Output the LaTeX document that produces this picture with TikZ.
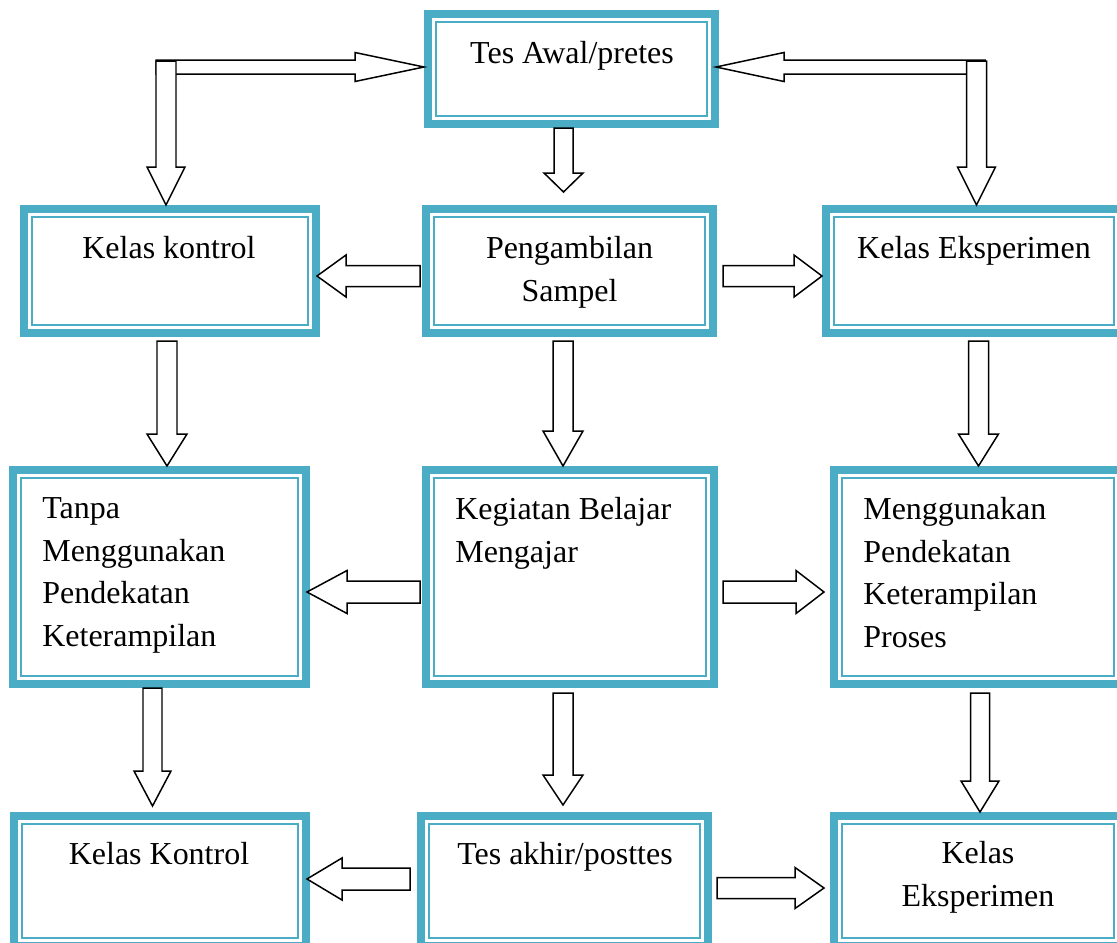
\documentclass[tikz,border=0pt]{standalone}
\usepackage{fontspec}
\setmainfont{Liberation Serif}
\usetikzlibrary{calc}
\definecolor{kotak}{HTML}{4BACC6}
\newcommand{\isifont}{\fontsize{18.2}{24.2}\selectfont}

\begin{document}
\begin{tikzpicture}[
	dbox/.style={draw=kotak, line width=0.16cm, inner sep=0pt, path picture={
			\draw[kotak, line width=0.04cm]
			([shift={(0.16,0.16)}]path picture bounding box.south west) rectangle
			([shift={(-0.16,-0.16)}]path picture bounding box.north east);}},
	teks/.style={inner sep=0pt, font=\isifont},
	blk/.style={draw=black, fill=white, line width=0.85pt},
	darr/.style n args={3}{to path={let \p1=(\tikztostart), \p2=(\tikztotarget) in
			(\x1-#1,\y1) -- (\x1-#1,\y2+#3) -- (\x1-#2,\y2+#3) -- (\x1,\y2)
			-- (\x1+#2,\y2+#3) -- (\x1+#1,\y2+#3) -- (\x1+#1,\y1) -- cycle}},
	rarr/.style n args={3}{to path={let \p1=(\tikztostart), \p2=(\tikztotarget) in
			(\x1,\y1+#1) -- (\x2-#3,\y1+#1) -- (\x2-#3,\y1+#2) -- (\x2,\y1)
			-- (\x2-#3,\y1-#2) -- (\x2-#3,\y1-#1) -- (\x1,\y1-#1) -- cycle}},
	larr/.style n args={3}{to path={let \p1=(\tikztostart), \p2=(\tikztotarget) in
			(\x1,\y1+#1) -- (\x2+#3,\y1+#1) -- (\x2+#3,\y1+#2) -- (\x2,\y1)
			-- (\x2+#3,\y1-#2) -- (\x2+#3,\y1-#1) -- (\x1,\y1-#1) -- cycle}}
	]
			\useasboundingbox (0,0) rectangle (22.34,-18.84);
			% kotak
			\node[dbox, minimum width=5.74cm, minimum height=2.20cm] (pre) at (11.43,-1.38) {};
			\node[dbox, minimum width=5.74cm, minimum height=2.48cm] (sampel) at (11.39,-5.42) {};
			\node[dbox, minimum width=5.84cm, minimum height=2.48cm] (kontrol1) at (3.40,-5.42) {};
			\node[dbox, minimum width=5.92cm, minimum height=2.48cm] (eksp1) at (19.48,-5.42) {};
			\node[dbox, minimum width=5.86cm, minimum height=4.28cm] (tanpa) at (3.19,-11.54) {};
			\node[dbox, minimum width=5.76cm, minimum height=4.28cm] (kbm) at (11.40,-11.54) {};
			\node[dbox, minimum width=5.76cm, minimum height=4.28cm] (proses) at (19.56,-11.54) {};
			\node[dbox, minimum width=5.84cm, minimum height=2.60cm] (kontrol2) at (3.20,-17.62) {};
			\node[dbox, minimum width=5.74cm, minimum height=2.60cm] (post) at (11.29,-17.62) {};
			\node[dbox, minimum width=5.76cm, minimum height=2.60cm] (eksp2) at (19.56,-17.62) {};
			% teks
			\node[teks, anchor=base] (tpre) at (11.44,-1.26) {Tes Awal/pretes};
			\node[teks, anchor=north, align=center] (tsampel) at (11.39,-4.72) {Pengambilan\\Sampel};
			\node[teks, anchor=base] (tkontrol1) at (3.38,-5.16) {Kelas kontrol};
			\node[teks, anchor=base] (teksp1) at (19.48,-5.16) {Kelas Eksperimen};
			\node[teks, anchor=north west, align=left] (ttanpa) at (0.84,-9.95) {Tanpa\\Menggunakan\\Pendekatan\\Keterampilan};
			\node[teks, anchor=north west, align=left] (tkbm) at (9.10,-9.94) {Kegiatan Belajar\\Mengajar};
			\node[teks, anchor=north west, align=left] (tproses) at (17.26,-9.94) {Menggunakan\\Pendekatan\\Keterampilan\\Proses};
			\node[teks, anchor=base] (tkontrol2) at (3.18,-17.28) {Kelas Kontrol};
			\node[teks, anchor=base] (tpost) at (11.30,-17.28) {Tes akhir/posttes};
			\node[teks, anchor=north, align=center] (teksp2) at (19.56,-16.82) {Kelas\\Eksperimen};
			% panah atas
			\coordinate (lh) at (3.12,-1.34);
			\coordinate (lv) at (3.32,-1.22);
			\coordinate (rh) at (19.70,-1.34);
			\coordinate (rv) at (19.53,-1.22);
			\draw[blk] (lh) to[rarr={0.14cm}{0.29cm}{1.38cm}] (pre.west);
			\draw[blk] (lv) to[darr={0.20cm}{0.38cm}{0.76cm}] (kontrol1.north);
			\draw[blk] (rh) to[larr={0.14cm}{0.29cm}{1.36cm}] ([xshift=-0.06cm]pre.east);
			\draw[blk] (rv) to[darr={0.20cm}{0.38cm}{0.76cm}] (eksp1.north);
			\draw[blk] ([xshift=-0.16cm]pre.south) to[darr={0.19cm}{0.39cm}{0.38cm}] ([yshift=0.26cm]sampel.north);
			% baris kedua
			\draw[blk] ([xshift=-0.04cm,yshift=-0.10cm]sampel.west) to[larr={0.21cm}{0.42cm}{0.58cm}] ([xshift=-0.06cm]kontrol1.east);
			\draw[blk] ([xshift=0.12cm,yshift=-0.10cm]sampel.east) to[rarr={0.21cm}{0.42cm}{0.56cm}] (eksp1.west);
			\draw[blk] ([xshift=-0.13cm,yshift=-0.08cm]sampel.south) to[darr={0.20cm}{0.40cm}{0.70cm}] (kbm.north);
			\draw[blk] ([xshift=-0.06cm,yshift=-0.08cm]kontrol1.south) to[darr={0.20cm}{0.40cm}{0.64cm}] (tanpa.north);
			\draw[blk] ([xshift=0.09cm,yshift=-0.08cm]eksp1.south) to[darr={0.20cm}{0.40cm}{0.64cm}] (proses.north);
			% baris ketiga
			\draw[blk] ([xshift=-0.04cm,yshift=-0.30cm]kbm.west) to[larr={0.22cm}{0.43cm}{0.80cm}] ([xshift=-0.06cm]tanpa.east);
			\draw[blk] ([xshift=0.10cm,yshift=-0.30cm]kbm.east) to[rarr={0.22cm}{0.43cm}{0.56cm}] ([xshift=-0.12cm]proses.west);
			\draw[blk] ([xshift=-0.14cm]tanpa.south) to[darr={0.19cm}{0.37cm}{0.70cm}] ([yshift=0.12cm]kontrol2.north);
			\draw[blk] ([xshift=-0.14cm,yshift=-0.10cm]kbm.south) to[darr={0.20cm}{0.40cm}{0.60cm}] ([yshift=0.14cm]post.north);
			\draw[blk] ([xshift=0.04cm,yshift=-0.10cm]proses.south) to[darr={0.19cm}{0.38cm}{0.62cm}] (eksp2.north);
			% baris keempat
			\draw[blk] ([xshift=-0.14cm,yshift=0.04cm]post.west) to[larr={0.22cm}{0.42cm}{0.70cm}] ([xshift=-0.06cm]kontrol2.east);
			\draw[blk] ([xshift=0.10cm,yshift=-0.14cm]post.east) to[rarr={0.21cm}{0.41cm}{0.58cm}] ([xshift=-0.12cm]eksp2.west);
		\end{tikzpicture}
\end{document}
